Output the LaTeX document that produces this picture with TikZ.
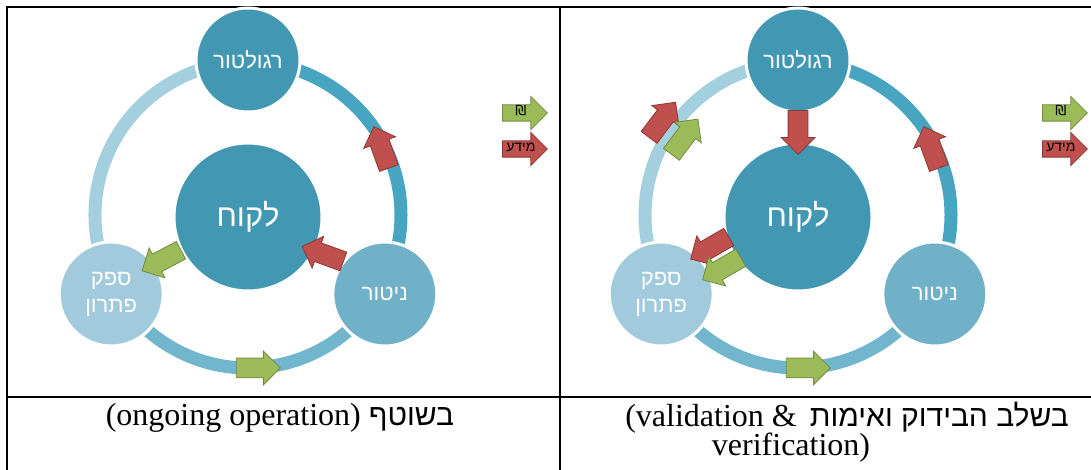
\documentclass[tikz,border=0pt]{standalone}
\usepackage{fontspec}
\setmainfont{Liberation Serif}
\newfontfamily\hebfont[Script=Hebrew]{Liberation Sans}
\newfontfamily\shekelfont{DejaVu Sans}
\TeXXeTstate=1
\usepackage{xcolor}
\usetikzlibrary{positioning,calc,shapes.arrows}

\definecolor{tealdark}{RGB}{66,152,178}
\definecolor{tealmid}{RGB}{112,177,200}
\definecolor{teallight}{RGB}{161,203,220}
\definecolor{ringright}{RGB}{72,165,194}
\definecolor{ringbottom}{RGB}{113,182,205}
\definecolor{ringleft}{RGB}{164,207,223}
\definecolor{moneyfill}{RGB}{155,187,89}
\definecolor{moneyline}{RGB}{113,137,63}
\definecolor{infofill}{RGB}{192,80,77}
\definecolor{infoline}{RGB}{140,56,54}

\newcommand{\captionheb}[1]{{\hebfont\fontsize{30}{33}\selectfont\beginR #1\endR}}

\tikzset{
	party/.style={circle, draw=white, line width=3pt, minimum size=104pt, inner sep=0pt, text=white, align=center, font=\hebfont\fontsize{22}{27}\selectfont},
	client/.style={party, minimum size=148pt, font=\hebfont\fontsize{31}{36}\selectfont},
	ringarc/.style={line width=13pt},
	blockarrow/.style={single arrow, single arrow head extend=7pt, minimum height=44pt, inner xsep=0pt, inner ysep=9.5pt, line width=0.8pt},
	money/.style={blockarrow, fill=moneyfill, draw=moneyline},
	info/.style={blockarrow, fill=infofill, draw=infoline},
	legendarrow/.style={minimum height=45pt, single arrow head extend=8.5pt, inner ysep=0pt, inner xsep=1pt, text height=10.5pt, text depth=5pt, anchor=tail, font=\fontsize{14}{15}\selectfont, text=black},
	rule/.style={line width=2.5pt},
	caption/.style={font=\fontsize{32}{33}\selectfont, inner sep=0pt}
}

\begin{document}
\begin{tikzpicture}[x=1pt, y=1pt]
		\useasboundingbox (0,0) rectangle (1091,470);
		\draw[rule] (7,0) -- (7,463) -- (1091,463);
		\draw[rule] (560,0) -- (560,463);
		\draw[rule] (7,73) -- (1091,73);
		
		\coordinate (ringL) at (248,255);
		\draw[ringarc, ringright] ($(ringL)+(90:153)$) arc[start angle=90, end angle=-30, radius=153pt];
		\draw[ringarc, ringbottom] ($(ringL)+(-30:153)$) arc[start angle=-30, end angle=-150, radius=153pt];
		\draw[ringarc, ringleft] ($(ringL)+(210:153)$) arc[start angle=210, end angle=90, radius=153pt];
		\node[party, fill=tealdark] (regL) at ($(ringL)+(90:155)$) {\beginR רגולטור\endR};
		\node[client, fill=tealdark] (clientL) at ($(ringL)+(0,-2)$) {\beginR לקוח\endR};
		\node[party, fill=tealmid] (monL) at ($(ringL)+(-30:158)$) {\beginR ניטור\endR};
		\node[party, fill=teallight] (supL) at ($(ringL)+(210:158)$) {\beginR ספק\endR\\\beginR פתרון\endR};
		\node[info, rotate=110] (infoL1) at ($(ringL)+(25:149)$) {};
		\node[money] (moneyL1) at ($(ringL)+(-88:153)$) {};
		\node[money, rotate=208] (moneyL2) at ($(clientL)!0.6!(supL)+(0,5)$) {};
		\node[info, rotate=160] (infoL2) at ($(clientL)!0.58!(monL)+(0,6)$) {};
		\node[money, legendarrow] (keymoneyL) at (502,357) {\shekelfont ₪};
		\node[info, legendarrow] (keyinfoL) at (502,321) {\hebfont\beginR מידע\endR};
		
		\coordinate (ringR) at (798,255);
		\draw[ringarc, ringright] ($(ringR)+(90:153)$) arc[start angle=90, end angle=-30, radius=153pt];
		\draw[ringarc, ringbottom] ($(ringR)+(-30:153)$) arc[start angle=-30, end angle=-150, radius=153pt];
		\draw[ringarc, ringleft] ($(ringR)+(210:153)$) arc[start angle=210, end angle=90, radius=153pt];
		\node[party, fill=tealdark] (regR) at ($(ringR)+(90:155)$) {\beginR רגולטור\endR};
		\node[client, fill=tealdark] (clientR) at ($(ringR)+(0,-2)$) {\beginR לקוח\endR};
		\node[party, fill=tealmid] (monR) at ($(ringR)+(-30:158)$) {\beginR ניטור\endR};
		\node[party, fill=teallight] (supR) at ($(ringR)+(210:158)$) {\beginR ספק\endR\\\beginR פתרון\endR};
		\node[info, rotate=270] (infoR0) at ($(regR.south)!0.5!(clientR.north)$) {};
		\node[info, rotate=110] (infoR1) at ($(ringR)+(25:149)$) {};
		\node[money] (moneyR1) at ($(ringR)+(-88:153)$) {};
		\node[info, rotate=53] (infoR3) at ($(ringR)+(147:152)+(143:14)$) {};
		\node[money, rotate=53] (moneyR3) at ($(ringR)+(147:152)+(-37:14)$) {};
		\node[info, rotate=210] (infoR2) at ($(clientR)!0.57!(supR)+(0,5)+(120:12)$) {};
		\node[money, rotate=210] (moneyR2) at ($(clientR)!0.57!(supR)+(0,5)+(-60:12)$) {};
		\node[money, legendarrow] (keymoneyR) at (1042,357) {\shekelfont ₪};
		\node[info, legendarrow] (keyinfoR) at (1042,321) {\hebfont\beginR מידע\endR};
		
		\node[caption] (capL) at (280,52) {(ongoing operation) \captionheb{בשוטף}};
		\node[caption, anchor=east] (capR) at (1069,52) {(validation \&\hspace{13pt}\captionheb{בשלב הבידוק ואימות}};
		\node[caption] (capR2) at (791,22) {verification)};
	\end{tikzpicture}
\end{document}
